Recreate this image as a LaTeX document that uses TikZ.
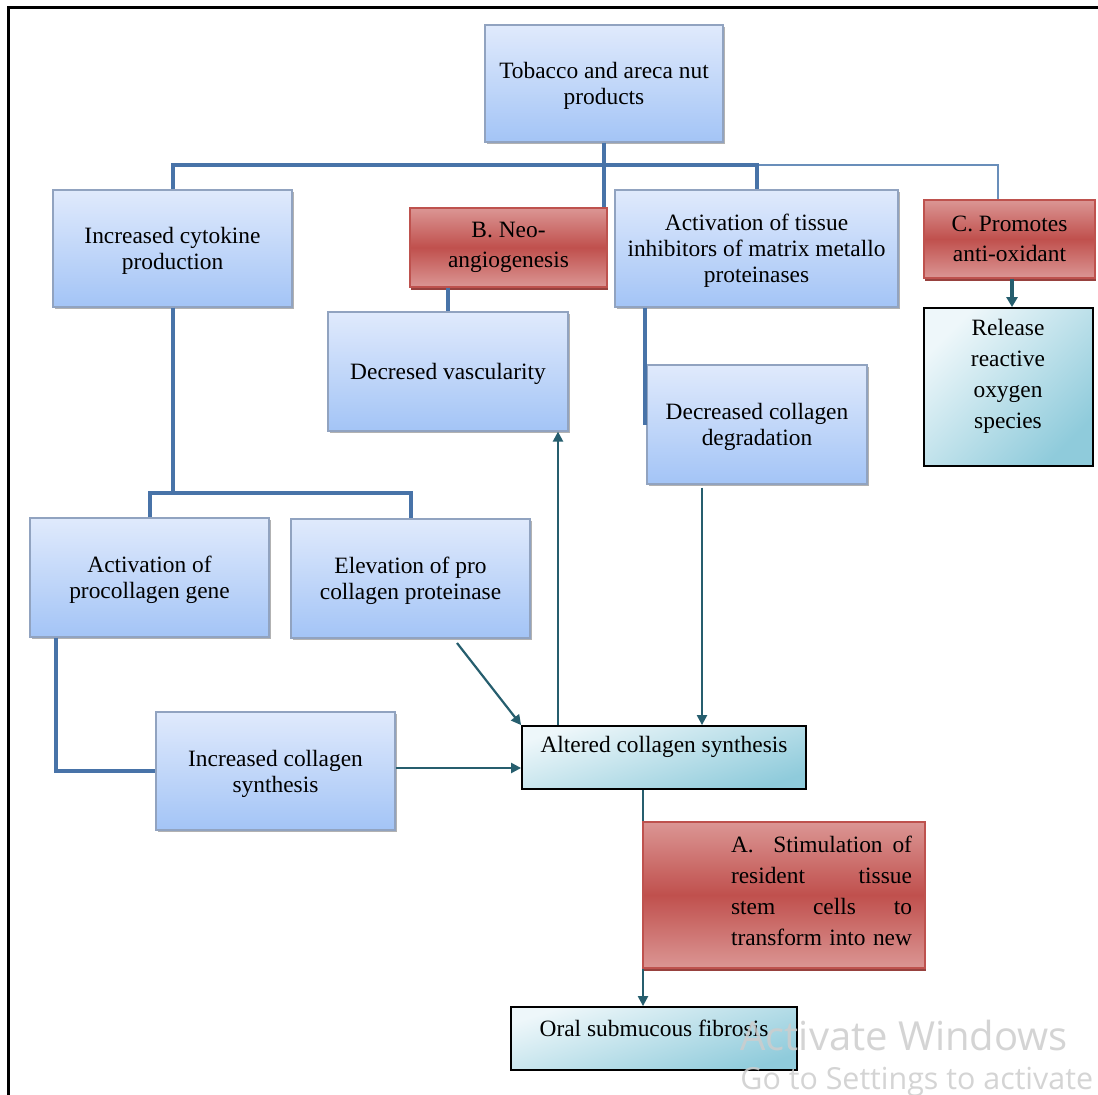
\documentclass[tikz,border=0pt]{standalone}
\usepackage{fontspec}
\setmainfont{Liberation Serif}
\newfontfamily\wmfont{Open Sans}
\usetikzlibrary{arrows.meta,shadows}

\definecolor{bluetop}{RGB}{224,234,252}
\definecolor{bluebot}{RGB}{163,196,246}
\definecolor{blueedge}{RGB}{145,163,192}
\definecolor{redlight}{RGB}{219,150,148}
\definecolor{redmid}{RGB}{192,80,77}
\definecolor{rededge}{RGB}{190,82,78}
\definecolor{redshadow}{RGB}{140,45,42}
\definecolor{teallight}{RGB}{238,247,250}
\definecolor{tealdark}{RGB}{143,203,219}
\definecolor{busblue}{RGB}{72,115,168}
\definecolor{thinblue}{RGB}{105,142,186}
\definecolor{arrteal}{RGB}{38,94,110}
\definecolor{wmgray}{RGB}{205,205,205}

\tikzset{
  txt/.style={font=\fontsize{11.7}{13}\selectfont, align=center, inner sep=0pt},
  box/.style n args={2}{minimum width=#1pt, minimum height=#2pt},
  bluebox/.style={draw=blueedge, line width=0.6pt, inner sep=0pt,
    top color=bluetop, bottom color=bluebot,
    drop shadow={shadow xshift=1.2pt, shadow yshift=-1.2pt, fill=black, opacity=0.3},
    txt, text depth=0pt},
  redbox/.style={draw=rededge, line width=0.6pt, inner sep=0pt,
    top color=redlight, bottom color=redlight, middle color=redmid,
    drop shadow={shadow xshift=0.6pt, shadow yshift=-1.6pt, fill=redshadow, opacity=0.9},
    txt, font=\fontsize{11.7}{14.8}\selectfont},
  tealbox/.style={draw=black, line width=0.9pt, inner sep=0pt,
    top color=teallight, bottom color=tealdark, shading angle=45, txt},
  widetealbox/.style={tealbox, shading angle=18},
  bus/.style={draw=busblue, line width=2pt},
  thinbus/.style={draw=thinblue, line width=1pt},
  arr/.style={draw=arrteal, line width=1.1pt, -{Triangle[length=5pt,width=5pt]}},
  boldarr/.style={draw=arrteal, line width=2pt, -{Triangle[length=5pt,width=5.5pt]}},
  wm/.style={font=\wmfont, text=wmgray, anchor=west, inner sep=0pt}
}

\begin{document}
\begin{tikzpicture}[x=0.5pt, y=-0.5pt]
\useasboundingbox (0,0) rectangle (1098,1095);
\fill[white] (0,0) rectangle (1098,1095);
% page frame
\draw[line width=1.5pt] (8,1100) -- (8,8) -- (1104,8);

% boxes
\node[bluebox, box={119}{58.5}] (tob) at (604,83.5) {Tobacco and areca nut\\products};
\node[bluebox, box={119.5}{58.5}] (cyto) at (172.5,248.5) {Increased cytokine\\production};
\node[redbox, box={98.5}{39.5}] (neo) at (508.5,247.5) {B. Neo-\\angiogenesis};
\node[bluebox, box={141.5}{58.5}] (tis) at (756.5,248.5) {Activation of tissue\\inhibitors of matrix metallo\\proteinases};
\node[redbox, box={85.5}{39}] (cpro) at (1009.5,239) {C. Promotes\\anti-oxidant};
\node[tealbox, box={84.5}{79}] (ros) at (1008.5,387) {};
\node[txt, font=\fontsize{11.7}{15.5}\selectfont] at (1008,376) {Release\\reactive\\oxygen\\species};
\node[bluebox, box={120}{59.5}] (vasc) at (448,371.5) {Decresed vascularity};
\node[bluebox, box={110}{59.5}] (deg) at (757,424.5) {Decreased collagen\\degradation};
\node[bluebox, box={119.5}{59.5}] (proc) at (149.5,577.5) {Activation of\\procollagen gene};
\node[bluebox, box={119.5}{59.5}] (elev) at (410.5,578.5) {Elevation of pro\\collagen proteinase};
\node[bluebox, box={119.5}{59}] (incsyn) at (275.5,771) {Increased collagen\\synthesis};
\node[widetealbox, box={142}{31.5}] (alt) at (664,757.5) {};
\node[txt] at (664,747) {Altered collagen synthesis};
\node[widetealbox, box={143}{31.5}] (oral) at (654,1038.5) {};
\node[txt] at (654,1028) {Oral submucous fibrosis};

% helper coordinates
\coordinate (j1) at (604,165);
\coordinate (cx) at (998,0);
\coordinate (dd) at (645,425);
\coordinate (j3) at (172,493);
\coordinate (p1) at (56,0);
\coordinate (ya) at (0,768);
\coordinate (e1) at (457,643);
\coordinate (v1) at (558,0);
\coordinate (d1) at (702,0);
\coordinate (o1) at (643,0);
\coordinate (r1) at (1012,0);

% connectors from the top box
\draw[thinbus] (tis.north |- j1) -| (cpro.north -| cx);
\draw[bus] (tob.south) -- (tob.south |- neo.north);
\draw[bus] (cyto.north) |- (tis.north |- j1) -- (tis.north);
\draw[bus] (vasc.north |- neo.south) -- (vasc.north);
\draw[bus] (dd |- tis.south) -- (dd);
% cytokine branch
\draw[bus] (cyto.south) -- (cyto.south |- j3);
\draw[bus] (proc.north) |- (elev.north |- j3) -- (elev.north);
\draw[bus] (proc.south -| p1) |- (incsyn.west);
% arrows
\draw[arr] (incsyn.east |- ya) -- (alt.west |- ya);
\draw[arr] (e1) -- (alt.north west);
\draw[arr] (alt.north -| v1) -- (vasc.south -| v1);
\draw[arr] ([yshift=-1.5pt]deg.south -| d1) -- (alt.north -| d1);
\draw[arr] (alt.south -| o1) -- (oral.north -| o1);
\draw[boldarr] (cpro.south -| r1) -- (ros.north -| r1);

% stimulation box sits over the line to the last box
\node[redbox, box={141}{73}] (stim) at (784,895) {};
\node[txt, text width=90.5pt, align=justify, font=\fontsize{11.7}{15.5}\selectfont] at (821.5,890.5)
  {\makebox[\linewidth][s]{A.\ \ Stimulation of}\\
   \makebox[\linewidth][s]{resident tissue}\\
   \makebox[\linewidth][s]{stem cells to}\\
   \makebox[\linewidth][s]{transform into new}};

% system watermark
\node[wm, font=\wmfont\fontsize{20}{22}\selectfont, opacity=0.85] at (740,1035) {Activate Windows};
\node[wm, font=\wmfont\fontsize{15.2}{17}\selectfont, opacity=0.85] at (740,1082) {Go to Settings to activate};
\end{tikzpicture}
\end{document}
